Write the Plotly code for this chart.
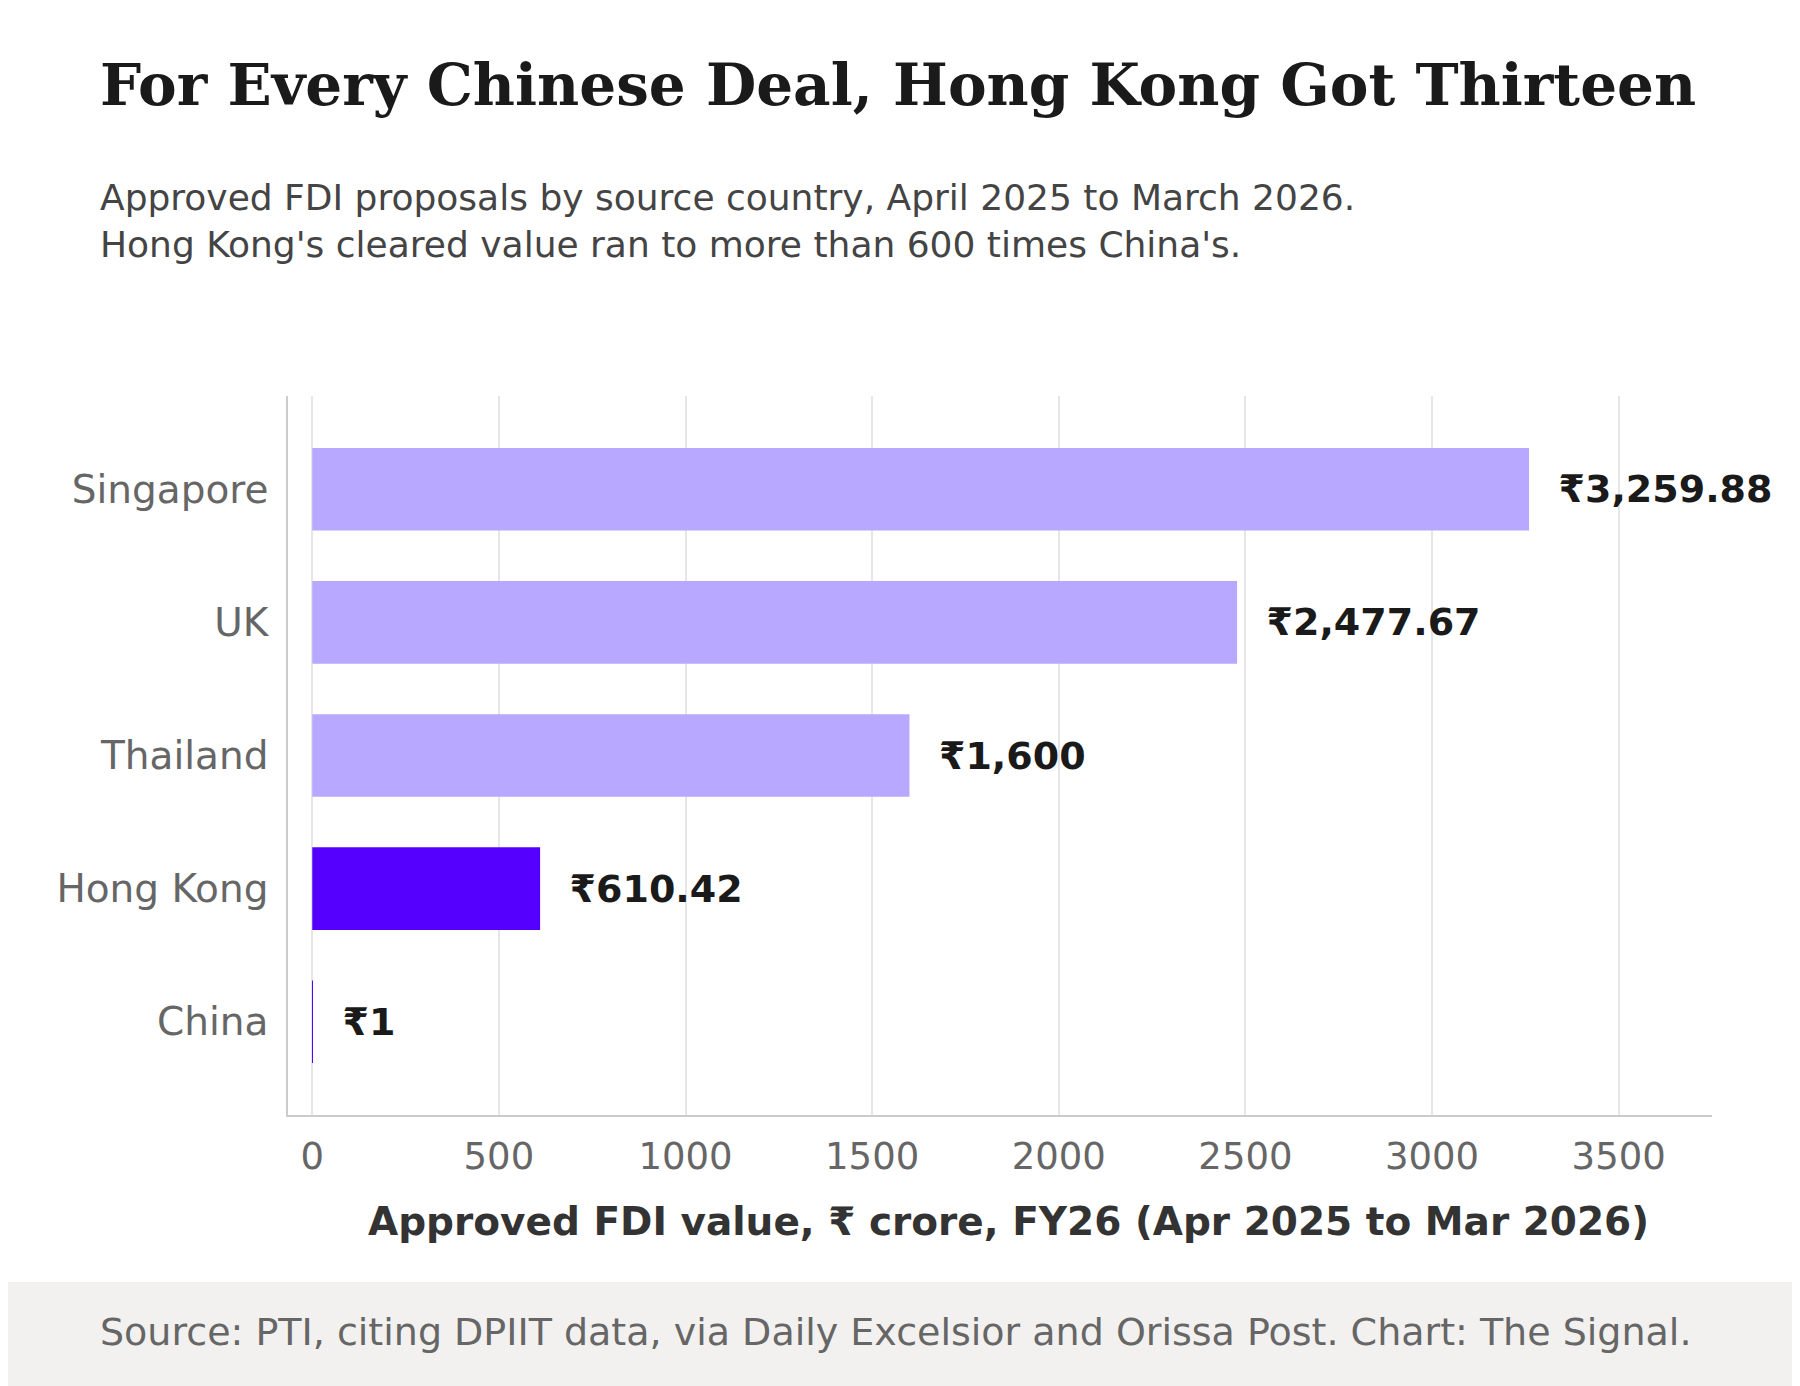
import plotly.graph_objects as go

countries = ["China", "Hong Kong", "Thailand", "UK", "Singapore"]
values = [1, 610.42, 1600, 2477.67, 3259.88]
labels = ["₹1", "₹610.42", "₹1,600", "₹2,477.67", "₹3,259.88"]
colors = ["#5500ff", "#5500ff", "#b8a8ff", "#b8a8ff", "#b8a8ff"]

L, R, T, B = 280, 96, 388, 279
W = 1800 - L - R
H = 1386 - T - B
def px(x): return (x - L) / W
def py(y): return 1 - (y - T) / H

fig = go.Figure(go.Bar(
    y=countries, x=values, orientation="h", width=0.62,
    marker=dict(color=colors, line=dict(width=0)),
    text=["  " + t for t in labels], textposition="outside", cliponaxis=False,
    textfont=dict(family="DejaVu Sans", size=38, color="#1a1a1a", weight="bold"),
))

fig.update_layout(
    width=1800, height=1386, paper_bgcolor="white", plot_bgcolor="white",
    margin=dict(l=L, r=R, t=T, b=B), showlegend=False,
    font=dict(family="DejaVu Sans"),
    xaxis=dict(range=[-65, 3750], tickvals=[0, 500, 1000, 1500, 2000, 2500, 3000, 3500],
               showgrid=True, gridcolor="#e6e6e6", gridwidth=1.5, zeroline=False,
               showline=True, linecolor="#cccccc", linewidth=1.5,
               tickfont=dict(size=37, color="#666666"), ticks="", ticklabelstandoff=8),
    yaxis=dict(range=[-0.7, 4.7], showline=True, linecolor="#cccccc", linewidth=1.5, showgrid=False,
               tickfont=dict(size=39, color="#666666"), ticks="", ticklabelstandoff=10),
    shapes=[dict(type="rect", xref="paper", yref="paper", x0=px(-20), x1=px(1820),
                 y0=py(1274), y1=py(1400), fillcolor="#f2f1ef", line=dict(width=0), layer="below")],
    annotations=[
        dict(text="<b>For Every Chinese Deal, Hong Kong Got Thirteen</b>", xref="paper", yref="paper",
             x=px(90), y=py(77), xanchor="left", yanchor="middle", showarrow=False,
             font=dict(family="DejaVu Serif", size=58, color="#1a1a1a")),
        dict(text="Approved FDI proposals by source country, April 2025 to March 2026.<br>Hong Kong's cleared value ran to more than 600 times China's.",
             xref="paper", yref="paper", x=px(90), y=py(167), xanchor="left", yanchor="top",
             align="left", showarrow=False, font=dict(size=36, color="#444444")),
        dict(text="<b>Approved FDI value, ₹ crore, FY26 (Apr 2025 to Mar 2026)</b>", xref="paper", yref="paper",
             x=px(1000), y=py(1213), xanchor="center", yanchor="middle", showarrow=False,
             font=dict(size=39, color="#333333")),
        dict(text="Source: PTI, citing DPIIT data, via Daily Excelsior and Orissa Post. Chart: The Signal.",
             xref="paper", yref="paper", x=px(90), y=py(1324), xanchor="left", yanchor="middle",
             showarrow=False, font=dict(size=38, color="#666666")),
    ],
)
fig.write_html("out.html")
